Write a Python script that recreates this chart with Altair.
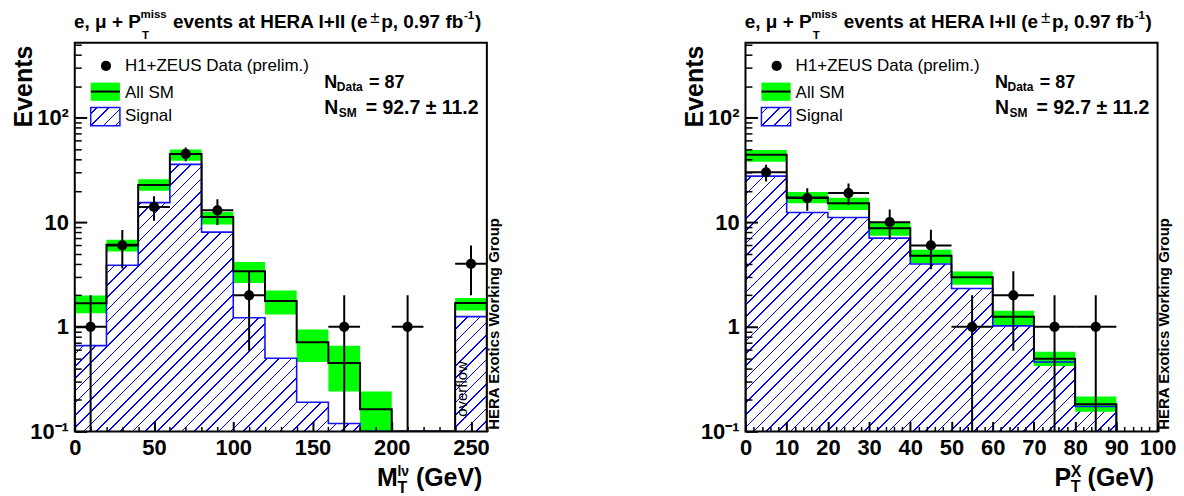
import math
import altair as alt
import pandas as pd

FONT = "Liberation Sans"
W, H = 413.5, 390
YMIN, YMAX = 0.1, 520

# ---------------- left panel: M_T^lnu ----------------
mt_edges = [0, 20, 40, 60, 80, 100, 120, 140, 160, 180, 200, 220, 240, 260]
mt_sm = [1.68, 6.08, 22.7, 44.8, 11.2, 3.39, 1.76, 0.71, 0.45, 0.163, None, None, 1.69]
mt_band_lo = [1.35, 5.25, 20.0, 38.7, 9.5, 2.62, 1.31, 0.46, 0.24, 0.1, None, None, 1.43]
mt_band_hi = [1.99, 6.79, 25.7, 49.6, 12.5, 4.16, 2.22, 0.94, 0.66, 0.24, None, None, 1.89]
mt_signal = [0.66, 3.87, 15.4, 35.7, 8.03, 1.22, 0.50, 0.19, 0.119, None, None, None, 1.25]
mt_data_x = [10, 30, 50, 70, 90, 110, 170, 210, 250]
mt_data_n = [1, 6, 14, 45, 13, 2, 1, 1, 4]
mt_data_lo = [0.01, 3.6, 10.3, 38.3, 9.4, 0.59, 0.01, 0.01, 2.0]
mt_data_hi = [2.0, 8.4, 17.7, 51.7, 16.6, 3.4, 2.0, 2.0, 6.0]
mt_bin_width = 20
mt_labels = [0, 50, 100, 150, 200, 250]
mt_ticks = list(range(0, 261, 10))

# ---------------- right panel: P_T^X ----------------
px_edges = [0, 10, 20, 30, 40, 50, 60, 70, 80, 90]
px_sm = [44.1, 17.2, 15.2, 8.77, 4.78, 2.97, 1.25, 0.496, 0.182]
px_band_lo = [37.8, 15.2, 13.1, 7.41, 4.04, 2.53, 1.04, 0.422, 0.154]
px_band_hi = [48.9, 19.4, 17.1, 9.85, 5.45, 3.37, 1.42, 0.578, 0.216]
px_signal = [27.6, 12.4, 11.1, 7.04, 3.98, 2.32, 1.02, 0.46, 0.173]
px_data_x = [5, 15, 25, 35, 45, 55, 65, 75, 85]
px_data_n = [30, 17, 19, 10, 6, 1, 2, 1, 1]
px_data_lo = [24.5, 12.9, 14.6, 6.8, 3.55, 0.01, 0.59, 0.01, 0.01]
px_data_hi = [35.5, 21.1, 23.4, 13.2, 8.45, 2.0, 3.4, 2.0, 2.0]
px_bin_width = 10
px_labels = list(range(0, 101, 10))
px_ticks = list(range(0, 101, 2))

y_labels = [0.1, 1, 10, 100]
y_ticks = []
for d in [0.1, 1, 10, 100]:
    for m in range(1, 10):
        v = round(d * m, 6)
        if v <= YMAX:
            y_ticks.append(v)

GREEN = "#00ff00"
BLUE = "#1414f0"
HATCH = "#0000ff"
ONE = alt.InlineData(values=[{"k": 0}])


def hatch_fill(w, h, period=12.3, lw=1.6, color=HATCH):
    L = w + h
    r = h / w
    s = (1 + r) / (1 + r * r)
    stops = [{"offset": 0, "color": "#ffffff"}]
    c = period / 2
    while c < L:
        a = round(max(0.0, (c - lw / 2) / L), 5)
        b = round(min(1.0, (c + lw / 2) / L), 5)
        stops += [{"offset": a, "color": "#ffffff"}, {"offset": a, "color": color},
                  {"offset": b, "color": color}, {"offset": b, "color": "#ffffff"}]
        c += period
    stops.append({"offset": 1, "color": "#ffffff"})
    return {"gradient": "linear", "stops": stops, "x1": 0, "y1": 0,
            "x2": round(s, 5), "y2": round(s * r, 5)}


def txt(s, x, y, size, weight="bold", align="left", angle=0):
    return alt.Chart(ONE).mark_text(
        text=s, font=FONT, fontSize=size, fontWeight=weight, align=align,
        baseline="alphabetic", angle=angle, color="black"
    ).encode(x=alt.value(x), y=alt.value(y))


def panel(edges, sm, blo, bhi, sig, dx, dn, dlo, dhi, binw, xmax,
          xlabels, xticks, xmajor, xtitle, overflow=False):
    xs = alt.Scale(domain=[0, xmax], nice=False, zero=False)
    ys = alt.Scale(type="log", domain=[YMIN, YMAX], nice=False)
    nb = len(edges) - 1

    def step_df(vals):
        pts = [(edges[0], YMIN)]
        for i in range(nb):
            pts.append((edges[i], vals[i] if vals[i] is not None else YMIN))
        last = vals[-1] if vals[-1] is not None else YMIN
        pts += [(edges[-1], last), (edges[-1], YMIN)]
        return pd.DataFrame({"x": [p[0] for p in pts], "y": [p[1] for p in pts],
                             "i": list(range(len(pts)))})

    sm_df = step_df(sm)
    sig_df = step_df(sig)
    area_df = sig_df.iloc[1:-1].reset_index(drop=True)
    band_df = pd.DataFrame({"lo": edges[:-1], "hi": edges[1:], "blo": blo, "bhi": bhi}).dropna()
    data_df = pd.DataFrame({"x": dx, "n": dn, "elo": dlo, "ehi": dhi})
    data_df["xl"] = data_df["x"] - binw / 2
    data_df["xh"] = data_df["x"] + binw / 2

    top = max(v for v in sig if v is not None)
    aw = (edges[-1] - edges[0]) / xmax * W
    ah = math.log10(top / YMIN) / math.log10(YMAX / YMIN) * H

    x_lab_axis = alt.Axis(values=xlabels, ticks=False, tickSize=0, domain=False, grid=False,
                          labelFont=FONT, labelFontSize=22, labelFontWeight="bold",
                          labelColor="black", labelPadding=6.4, labelFlush=False,
                          labelOverlap=False, title=None)
    y_lab_axis = alt.Axis(values=y_labels, ticks=False, tickSize=0, domain=False, grid=False,
                          labelFont=FONT, labelFontSize=22, labelFontWeight="bold",
                          labelColor="black", labelPadding=6.4, labelOverlap=False,
                          labelExpr="datum.value == 0.1 ? '10\u207b\u00b9' : datum.value == 100 ? '10\u00b2' : datum.value == 10 ? '10' : '1'",
                          title=None)
    x_tick_axis = alt.Axis(orient="top", offset=-H, values=xticks, labels=False, domain=False,
                           grid=False, title=None, tickColor="black", zindex=2,
                           tickSize={"condition": {"test": xmajor, "value": 10}, "value": 5},
                           tickWidth={"condition": {"test": xmajor, "value": 2}, "value": 1.5})
    ymajor = "datum.value == 0.1 || datum.value == 1 || datum.value == 10 || datum.value == 100"
    y_tick_axis = alt.Axis(orient="right", offset=-W, values=y_ticks, labels=False, domain=False,
                           grid=False, title=None, tickColor="black", zindex=2,
                           tickSize={"condition": {"test": ymajor, "value": 12}, "value": 6.5},
                           tickWidth={"condition": {"test": ymajor, "value": 2}, "value": 1.5})

    layers = []
    layers.append(alt.Chart(area_df).mark_area(
        interpolate="step-after", fill=hatch_fill(aw, ah), opacity=1, clip=True
    ).encode(x=alt.X("x:Q", scale=xs, axis=x_lab_axis),
             y=alt.Y("y:Q", scale=ys, axis=y_lab_axis),
             y2=alt.datum(YMIN)))
    layers.append(alt.Chart(band_df).mark_rect(color=GREEN, opacity=1, clip=True).encode(
        x=alt.X("lo:Q", scale=xs, axis=x_tick_axis), x2="hi:Q",
        y=alt.Y("blo:Q", scale=ys, axis=y_tick_axis), y2="bhi:Q"))
    layers.append(alt.Chart(sig_df).mark_line(
        interpolate="step-after", color=BLUE, strokeWidth=1.6, clip=True
    ).encode(x=alt.X("x:Q", scale=xs, axis=None), y=alt.Y("y:Q", scale=ys, axis=None),
             order="i:Q"))
    layers.append(alt.Chart(sm_df).mark_line(
        interpolate="step-after", color="black", strokeWidth=2, clip=True
    ).encode(x=alt.X("x:Q", scale=xs, axis=None), y=alt.Y("y:Q", scale=ys, axis=None),
             order="i:Q"))
    layers.append(alt.Chart(data_df).mark_rule(color="black", strokeWidth=2, clip=True).encode(
        x=alt.X("x:Q", scale=xs, axis=None),
        y=alt.Y("elo:Q", scale=ys, axis=None), y2="ehi:Q"))
    layers.append(alt.Chart(data_df).mark_rule(color="black", strokeWidth=2, clip=True).encode(
        x=alt.X("xl:Q", scale=xs, axis=None), x2="xh:Q",
        y=alt.Y("n:Q", scale=ys, axis=None)))
    layers.append(alt.Chart(data_df).mark_circle(size=105, color="black", opacity=1, clip=True).encode(
        x=alt.X("x:Q", scale=xs, axis=None), y=alt.Y("n:Q", scale=ys, axis=None)))

    # frame
    layers.append(alt.Chart(ONE).mark_rect(fill="transparent", stroke="black", strokeWidth=2).encode(
        x=alt.value(0), x2=alt.value(W), y=alt.value(0), y2=alt.value(H)))

    # legend
    layers.append(alt.Chart(ONE).mark_circle(size=105, color="black", opacity=1).encode(
        x=alt.value(31.3), y=alt.value(23.3)))
    layers.append(alt.Chart(ONE).mark_rect(color=GREEN, opacity=1).encode(
        x=alt.value(16), x2=alt.value(45.3), y=alt.value(40), y2=alt.value(58.3)))
    layers.append(alt.Chart(ONE).mark_rule(color="black", strokeWidth=2).encode(
        x=alt.value(16), x2=alt.value(45.3), y=alt.value(49)))
    layers.append(alt.Chart(ONE).mark_rect(fill=hatch_fill(29.3, 18.3), stroke=BLUE,
                                           strokeWidth=1.5, opacity=1).encode(
        x=alt.value(16), x2=alt.value(45.3), y=alt.value(65), y2=alt.value(83.3)))
    layers.append(txt("H1+ZEUS Data (prelim.)", 50.3, 28.3, 17, weight="normal"))
    layers.append(txt("All SM", 50.3, 55, 17, weight="normal"))
    layers.append(txt("Signal", 50.3, 78.3, 17, weight="normal"))

    # N text
    layers.append(txt("N", 250.3, 45, 18))
    layers.append(txt("Data", 263, 48.5, 12))
    layers.append(txt("= 87", 295.3, 45, 18))
    layers.append(txt("N", 250.3, 71.6, 19.5))
    layers.append(txt("SM", 265, 74.5, 12))
    layers.append(txt("= 92.7 \u00b1 11.2", 292, 71.6, 19.5))

    # title
    layers.append(txt("e, \u03bc + P", -0.7, -15, 19))
    layers.append(txt("miss", 66, -25, 11.5))
    layers.append(txt("T", 67.5, -4, 11.5))
    layers.append(txt("events at HERA I+II (e", 98.6, -15, 19))
    layers.append(txt("\u00b1", 296.5, -20, 17, weight="normal"))
    layers.append(txt("p, 0.97 fb", 307.5, -15, 19))
    layers.append(txt("-1", 390.5, -24, 11.5))
    layers.append(txt(")", 401.5, -15, 19))

    # axis titles
    layers.append(txt("Events", -42.7, 3, 25, align="right", angle=270))
    for s, x, dy, size in xtitle:
        layers.append(txt(s, x, H + dy, size))

    layers.append(txt("HERA Exotics Working Group", W + 11.8, 388.3, 15, angle=270))
    if overflow:
        layers.append(txt("overflow", 393.3, 375.3, 15, weight="normal", angle=270))

    return alt.layer(*layers).resolve_axis(x="independent", y="independent").properties(
        width=W, height=H)


left = panel(mt_edges, mt_sm, mt_band_lo, mt_band_hi, mt_signal,
             mt_data_x, mt_data_n, mt_data_lo, mt_data_hi, mt_bin_width, 260,
             mt_labels, mt_ticks, "datum.value % 50 == 0",
             [("M", 303.3, 55.3, 25), ("l\u03bd", 323.8, 45, 14), ("T", 323.8, 62, 16),
              ("(GeV)", 342.3, 55.3, 25)],
             overflow=True)
right = panel(px_edges, px_sm, px_band_lo, px_band_hi, px_signal,
              px_data_x, px_data_n, px_data_lo, px_data_hi, px_bin_width, 100,
              px_labels, px_ticks, "datum.value % 10 == 0",
              [("P", 310, 55.3, 25), ("X", 326.3, 45.3, 16), ("T", 326.3, 61.3, 16),
               ("(GeV)", 343.3, 55.3, 25)])

chart = alt.hconcat(left, right, spacing=181).properties(
    padding={"left": 4, "top": 0, "right": 0, "bottom": 0}
).configure(background="white").configure_view(stroke=None)

chart.save("out.html", embed_options={"renderer": "svg", "actions": False})
